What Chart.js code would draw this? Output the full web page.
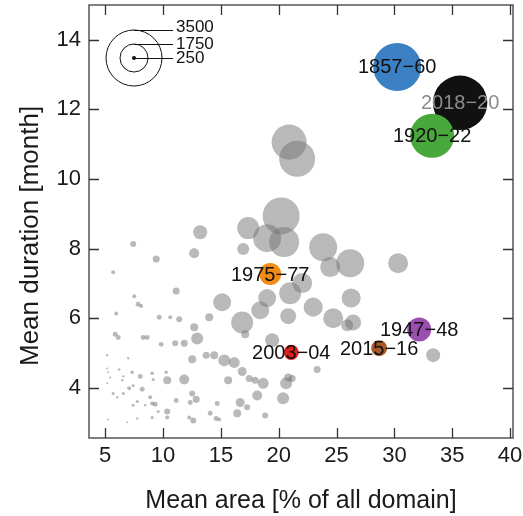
<!DOCTYPE html>
<html>
<head>
<meta charset="utf-8">
<script src="https://cdn.jsdelivr.net/npm/chart.js@4/dist/chart.umd.min.js"></script>
<style>
  html, body { margin: 0; padding: 0; background: #fff; }
  #c { display: block; }
</style>
</head>
<body>
<canvas id="c" width="523" height="516"></canvas>
<script>
// ---- data ----
var xTicks = [5, 10, 15, 20, 25, 30, 35, 40];
var yTicks = [4, 6, 8, 10, 12, 14];
var legendSizes = [3500, 1750, 250];

// highlighted events
var hlLabels = ['1857−60', '2018−20', '1920−22', '1975−77', '2003−04', '2015−16', '1947−48'];
var hlX = [30.24, 35.68, 33.26, 19.26, 21.08, 28.68, 32.14];
var hlY = [13.22, 12.19, 11.24, 7.27, 5.02, 5.14, 5.68];
var hlSize = [3000, 3400, 2750, 1375, 940, 1000, 1500];

// other events (grey)
var grayX = [20.90, 21.59, 20.21, 19.00, 20.47, 17.36, 16.93, 13.21, 12.69, 9.41, 7.42, 5.69,
  11.14, 7.51, 7.85, 8.11, 5.95, 9.67, 10.62, 11.40, 13.99, 15.11, 12.69, 12.95,
  5.86, 6.12, 8.28, 8.63, 9.84, 11.05, 11.83, 12.52, 13.73, 14.42, 5.17, 6.99,
  5.17, 5.26, 6.21, 7.33, 8.03, 9.06, 9.15, 10.27, 10.36, 11.83, 6.56, 6.47,
  5.43, 5.17, 7.42, 7.07, 8.20, 6.56, 5.69, 6.04, 7.77, 8.89, 9.06, 9.32,
  11.14, 10.36, 12.52, 12.87, 12.35, 7.42, 8.46, 9.58, 9.06, 10.36, 7.77, 6.90,
  5.26, 12.26, 12.61, 14.08, 14.59, 14.68, 14.85, 16.84, 17.10, 19.43, 20.82, 15.29,
  16.15, 16.84, 17.45, 17.96, 18.66, 15.63, 20.64, 21.16, 23.32, 18.14, 20.38, 16.67,
  17.27, 16.41, 18.83, 18.40, 19.00, 20.99, 22.03, 22.98, 24.71, 23.84, 26.18, 24.45,
  30.32, 26.26, 26.43, 25.92, 33.35, 20.82];
var grayY = [11.06, 10.58, 8.94, 8.30, 8.19, 8.59, 7.99, 8.47, 7.87, 7.70, 8.13, 7.32,
  6.78, 6.63, 6.40, 6.35, 6.14, 6.03, 6.03, 5.97, 6.03, 6.46, 5.74, 5.42,
  5.54, 5.45, 5.45, 5.45, 5.25, 5.28, 5.28, 4.82, 4.94, 4.94, 4.94, 4.85,
  4.56, 4.45, 4.53, 4.45, 4.33, 4.42, 4.24, 4.45, 4.22, 4.24, 4.33, 4.22,
  4.30, 4.13, 4.07, 3.99, 3.96, 3.84, 3.84, 3.73, 3.61, 3.73, 3.55, 3.53,
  3.64, 3.32, 3.84, 3.67, 3.58, 3.50, 3.50, 3.32, 3.15, 3.15, 3.12, 3.01,
  3.09, 3.15, 3.06, 3.27, 3.12, 3.55, 3.09, 5.88, 5.54, 5.37, 6.06, 4.79,
  4.73, 4.47, 4.27, 4.22, 4.13, 4.22, 4.13, 4.27, 4.53, 3.78, 3.70, 3.58,
  3.44, 3.27, 3.21, 6.23, 6.58, 6.72, 7.01, 6.32, 6.00, 8.04, 7.58, 7.47,
  7.58, 6.58, 5.88, 5.80, 4.94, 4.30];
var graySize = [2190, 2250, 2310, 1750, 1875, 1375, 750, 875, 625, 440, 375, 250,
  440, 250, 310, 250, 250, 310, 250, 375, 500, 1125, 500, 750,
  310, 310, 310, 310, 310, 375, 440, 500, 440, 500, 150, 150,
  125, 125, 160, 225, 310, 225, 190, 225, 500, 625, 150, 150,
  125, 125, 190, 250, 310, 190, 190, 150, 190, 250, 250, 310,
  310, 375, 375, 440, 310, 190, 150, 190, 190, 250, 150, 125,
  125, 250, 375, 310, 310, 310, 250, 1375, 500, 875, 1000, 750,
  690, 560, 440, 440, 690, 500, 750, 440, 440, 625, 750, 560,
  375, 500, 375, 1125, 1125, 1375, 1250, 1190, 1250, 1750, 1750, 1250,
  1250, 1190, 1000, 750, 875, 500];

// ---- style ----
var FONT = '"Liberation Sans", Arial, Helvetica, sans-serif';
var RSCALE = 0.008; // px of radius per size unit
var hlColors = ['#3b80c2', '#111111', '#49a83c', '#f28c17', '#e11f1f', '#a85a2a', '#9a4fae'];
var hlTextColors = ['#111', '#8c8c8c', '#111', '#111', '#111', '#111', '#111'];

function pts(xs, ys, ss) {
  return xs.map(function(x, i) { return { x: x, y: ys[i], r: ss[i] * RSCALE }; });
}

var frame = {
  id: 'frame',
  afterDraw: function(chart) {
    var ctx = chart.ctx, a = chart.chartArea;
    var xs = chart.scales.x, ys = chart.scales.y;
    ctx.save();
    ctx.strokeStyle = '#555';
    ctx.lineWidth = 1.5;
    ctx.strokeRect(a.left, a.top, a.right - a.left, a.bottom - a.top);
    ctx.strokeStyle = '#333';
    ctx.lineWidth = 1.3;
    ctx.beginPath();
    xTicks.forEach(function(v) {
      var p = Math.round(xs.getPixelForValue(v)) + 0.5;
      ctx.moveTo(p, a.bottom); ctx.lineTo(p, a.bottom - 10);
      ctx.moveTo(p, a.top); ctx.lineTo(p, a.top + 10);
    });
    yTicks.forEach(function(v) {
      var p = Math.round(ys.getPixelForValue(v)) + 0.5;
      ctx.moveTo(a.left, p); ctx.lineTo(a.left + 10, p);
      ctx.moveTo(a.right, p); ctx.lineTo(a.right - 10, p);
    });
    ctx.stroke();

    // size legend
    var cx = a.left + 45, cy = a.top + 53, lx = a.left + 84;
    ctx.strokeStyle = '#111';
    ctx.lineWidth = 1;
    ctx.fillStyle = '#111';
    ctx.font = '17px ' + FONT;
    ctx.textAlign = 'left';
    ctx.textBaseline = 'middle';
    legendSizes.forEach(function(s) {
      var r = s * RSCALE;
      ctx.beginPath();
      ctx.arc(cx, cy, r, 0, Math.PI * 2);
      if (r < 3) ctx.fill(); else ctx.stroke();
      var ly = Math.round(r < 3 ? cy : cy - r) + 0.5;
      ctx.beginPath();
      ctx.moveTo(cx, ly); ctx.lineTo(lx, ly);
      ctx.stroke();
      ctx.fillText(String(s), lx + 3, ly - (s === legendSizes[0] ? 3 : 0));
    });
    ctx.restore();
  },
  afterDatasetsDraw: function(chart) {
    var ctx = chart.ctx;
    var meta = chart.getDatasetMeta(0);
    ctx.save();
    ctx.font = '20px ' + FONT;
    ctx.textAlign = 'center';
    ctx.textBaseline = 'middle';
    meta.data.forEach(function(el, i) {
      ctx.fillStyle = hlTextColors[i];
      ctx.fillText(hlLabels[i], el.x, el.y + 1);
    });
    ctx.restore();
  }
};

new Chart(document.getElementById('c'), {
  type: 'bubble',
  data: {
    datasets: [
      {
        label: 'highlighted',
        data: pts(hlX, hlY, hlSize),
        backgroundColor: hlColors,
        borderWidth: 0,
        hoverRadius: 0
      },
      {
        label: 'other',
        data: pts(grayX, grayY, graySize),
        backgroundColor: 'rgba(115,115,115,0.5)',
        borderWidth: 0,
        hoverRadius: 0
      }
    ]
  },
  options: {
    responsive: false,
    animation: false,
    devicePixelRatio: 1,
    clip: false,
    layout: { autoPadding: false, padding: { top: 5, right: 10, left: 0, bottom: 0 } },
    plugins: { legend: { display: false }, tooltip: { enabled: false } },
    events: [],
    scales: {
      x: {
        type: 'linear',
        min: 3.6,
        max: 40.25,
        afterBuildTicks: function(s) { s.ticks = xTicks.map(function(v) { return { value: v }; }); },
        afterFit: function(s) { s.height = 78; s.paddingLeft = 0; s.paddingRight = 0; },
        grid: { display: false, drawTicks: false },
        border: { display: false },
        ticks: { font: { size: 22, family: FONT }, color: '#1a1a1a', padding: 5, maxRotation: 0 },
        title: { display: true, text: 'Mean area [% of all domain]', color: '#1a1a1a',
                 font: { size: 25, family: FONT }, padding: { top: 0, bottom: 0 } }
      },
      y: {
        type: 'linear',
        min: 2.56,
        max: 15.0,
        afterBuildTicks: function(s) { s.ticks = yTicks.map(function(v) { return { value: v }; }); },
        afterFit: function(s) { s.width = 89; s.paddingTop = 0; s.paddingBottom = 0; },
        grid: { display: false, drawTicks: false },
        border: { display: false },
        ticks: { font: { size: 22, family: FONT }, color: '#1a1a1a', padding: 8 },
        title: { display: true, text: 'Mean duration [month]\u00a0\u00a0\u00a0\u00a0', color: '#1a1a1a',
                 font: { size: 26, family: FONT }, padding: { top: 15, bottom: 0 } }
      }
    }
  },
  plugins: [frame]
});
</script>
</body>
</html>
